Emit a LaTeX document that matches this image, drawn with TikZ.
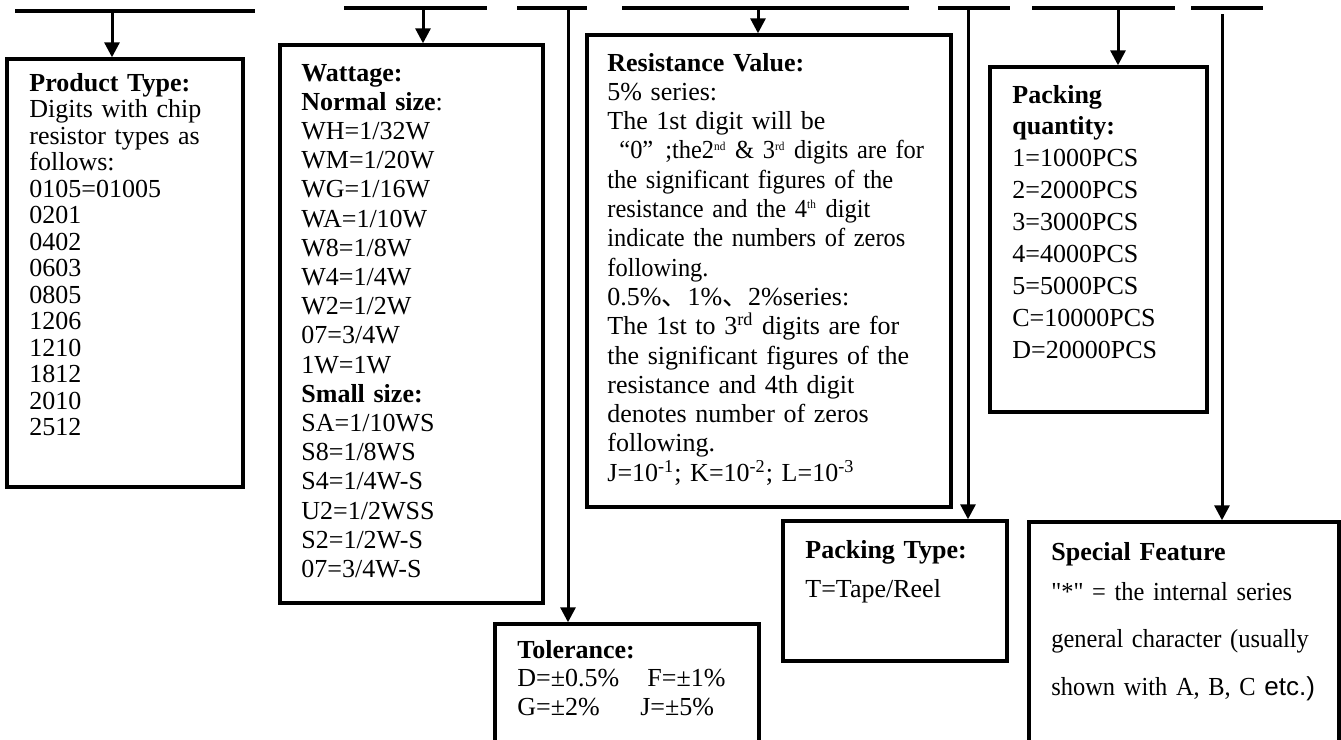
\documentclass[tikz,border=0pt]{standalone}
\usepackage{fontspec}
\setmainfont{Liberation Serif}
\setsansfont{Liberation Sans}
\newfontfamily\narrowfont[FakeStretch=0.94]{Liberation Serif}
\newfontfamily\cjkfont{Noto Sans CJK SC}
\usepackage{tikz}
\usetikzlibrary{arrows.meta,positioning,fit}
\newcommand\tinysup[1]{\textsuperscript{\fontsize{6}{6}\selectfont #1}}

\begin{document}
\begin{tikzpicture}[x=0.5pt, y=-0.5pt,
    bar/.style={line width=1.6pt},
    link/.style={line width=1.5pt, -{Triangle[length=7.5pt,width=7.5pt]}},
    box/.style={draw, line width=1.7pt, inner sep=0pt},
    txt/.style={anchor=base west, inner sep=0pt, text width=172pt, align=left,
                font=\fontsize{13}{#1}\selectfont}]
    \useasboundingbox (0,0) rectangle (1341,740);

    % code segments
    \draw[bar] (15,11) -- (255,11);
    \draw[bar] (344,8) -- (487,8);
    \draw[bar] (517,8) -- (587,8);
    \draw[bar] (622,8) -- (909,8);
    \draw[bar] (938,8) -- (1010,8);
    \draw[bar] (1032,8) -- (1175,8);
    \draw[line width=2pt] (1191,8) -- (1263,8);
    \coordinate (s1) at (112,11);
    \coordinate (s2) at (423,8);
    \coordinate (s3) at (568,8);
    \coordinate (s4) at (758,8);
    \coordinate (s5) at (968,8);
    \coordinate (s6) at (1118,8);
    \coordinate (s7) at (1222,14);

    % boxes
    \node[box, fit={(7,59) (243,487)}] (prod) {};
    \node[box, fit={(280,45) (543,603)}] (watt) {};
    \node[box, fit={(587,35) (951,507)}] (resv) {};
    \node[box, fit={(495,624) (759,745)}] (tol) {};
    \node[box, fit={(783,521) (1007,661)}] (ptype) {};
    \node[box, fit={(990,67) (1207,412)}] (pqty) {};
    \node[box, fit={(1029,522) (1339,745)}] (spec) {};

    \draw[link] (s1) -- (s1 |- prod.north);
    \draw[link] (s2) -- (s2 |- watt.north);
    \draw[link] (s3) -- (s3 |- tol.north);
    \draw[link] (s4) -- (s4 |- resv.north);
    \draw[link] (s5) -- (s5 |- ptype.north);
    \draw[link] (s6) -- (s6 |- pqty.north);
    \draw[link] (s7) -- (s7 |- spec.north);

    % texts
    \node[txt=13.25] (prodtxt) at (29,91) {\textbf{Product Type:}\\Digits with chip\\resistor types as\\follows:\\0105=01005\\0201\\0402\\0603\\0805\\1206\\1210\\1812\\2010\\2512};
    \node[txt=14.6] (watttxt) at (301,81) {\textbf{Wattage:}\\\textbf{Normal size}:\\WH=1/32W\\WM=1/20W\\WG=1/16W\\WA=1/10W\\W8=1/8W\\W4=1/4W\\W2=1/2W\\07=3/4W\\1W=1W\\\textbf{Small size:}\\SA=1/10WS\\S8=1/8WS\\S4=1/4W-S\\U2=1/2WSS\\S2=1/2W-S\\07=3/4W-S};
    \node[txt=14.65] (resvtxt) at (607,71) {\textbf{Resistance Value:}\\5\% series:\\The 1st digit will be\\
        {\narrowfont\hspace*{6pt}“0”\hspace{6pt};the2\tinysup{nd} \& 3\tinysup{rd} digits are for}\\
        {\narrowfont the significant figures of the}\\
        {\narrowfont resistance and the 4\tinysup{th} digit}\\
        {\narrowfont indicate the numbers of zeros}\\
        {\narrowfont following.}\\
        0.5\%{\cjkfont 、}1\%{\cjkfont 、}2\%series:\\The 1st to 3\textsuperscript{rd} digits are for\\the significant figures of the\\resistance and 4th digit\\denotes number of zeros\\following.\\J=10\textsuperscript{-1}; K=10\textsuperscript{-2}; L=10\textsuperscript{-3}};
    \node[txt=14.25] (toltxt) at (517,658) {\textbf{Tolerance:}\\\makebox[65pt][l]{D=±0.5\%}F=±1\%\\\makebox[61.5pt][l]{G=±2\%}J=±5\%};
    \node[txt=19.5] (ptypetxt) at (805,558) {\textbf{Packing Type:}\\T=Tape/Reel};
    \node[txt=15.95] (pqtytxt) at (1012,103) {\textbf{Packing}\\\textbf{quantity:}\\1=1000PCS\\2=2000PCS\\3=3000PCS\\4=4000PCS\\5=5000PCS\\C=10000PCS\\D=20000PCS};
    \node[txt=23.75] (spectxt) at (1051,560) {\textbf{Special Feature}\\[-3.75pt]
        {\narrowfont\symbol{34}*\symbol{34} = the internal series}\\
        {\narrowfont general character (usually}\\
        {\narrowfont shown with A, B, C {\sffamily etc.)}}};
\end{tikzpicture}
\end{document}
